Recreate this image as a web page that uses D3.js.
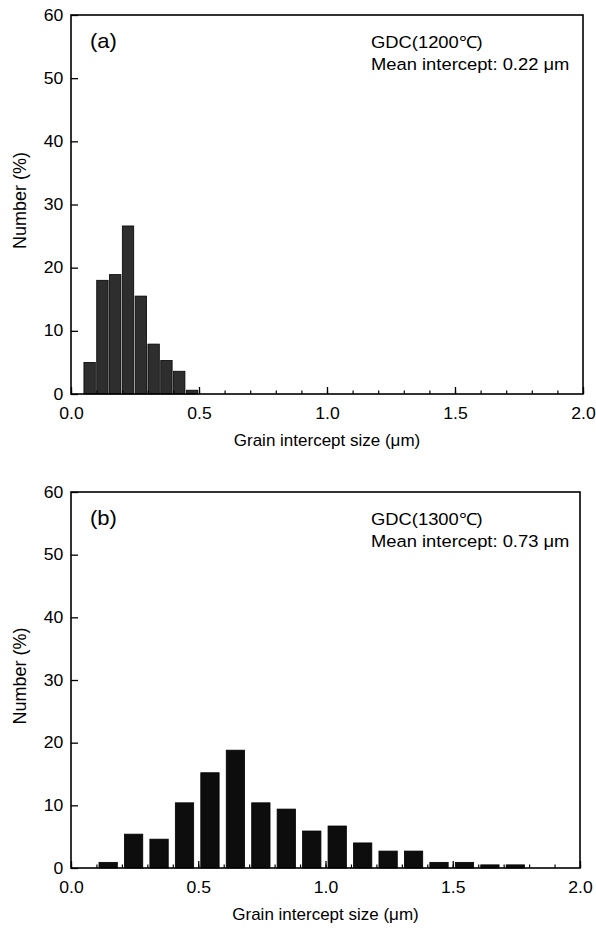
<!DOCTYPE html>
<html>
<head>
<meta charset="utf-8">
<script src="https://cdn.jsdelivr.net/npm/d3@7"></script>
<style>
  html, body { margin: 0; padding: 0; background: #fff; }
  svg { display: block; font-family: "Liberation Sans", Arial, sans-serif; }
</style>
</head>
<body>
<svg id="chart" width="596" height="932"></svg>
<script>
// ---- data ----
const binStartA = [0.05, 0.10, 0.15, 0.20, 0.25, 0.30, 0.35, 0.40, 0.45];
const valuesA   = [5.0, 18.0, 18.9, 26.6, 15.5, 7.9, 5.3, 3.6, 0.6];
const binStartB = [0.1, 0.2, 0.3, 0.4, 0.5, 0.6, 0.7, 0.8, 0.9, 1.0, 1.1, 1.2, 1.3, 1.4, 1.5, 1.6, 1.7];
const valuesB   = [0.9, 5.4, 4.6, 10.4, 15.2, 18.8, 10.4, 9.4, 5.9, 6.7, 4.0, 2.7, 2.7, 0.9, 0.9, 0.5, 0.5];
const xTicks = [0.0, 0.5, 1.0, 1.5, 2.0];
const yTicks = [0, 10, 20, 30, 40, 50, 60];
const panelLabels = ["(a)", "(b)"];
const annotLine1 = ["GDC(1200\u2103)", "GDC(1300\u2103)"];
const annotLine2 = ["Mean intercept: 0.22 \u03bcm", "Mean intercept: 0.73 \u03bcm"];
const xTitle = "Grain intercept size (\u03bcm)";
const yTitle = "Number (%)";

const svg = d3.select("#chart");
const SX = 1.1; // horizontal text stretch

const panels = [
  { left: 71, right: 583, top: 15, bottom: 394, starts: binStartA, values: valuesA,
    binW: 0.05, barOff: 0.0005, barW: 0.0445, fill: "#2e2e2e" },
  { left: 71, right: 580, top: 492, bottom: 868, starts: binStartB, values: valuesB,
    binW: 0.1, barOff: 0.01, barW: 0.072, fill: "#0d0d0d" }
];

panels.forEach((p, i) => {
  const x = d3.scaleLinear().domain([0, 2]).range([p.left, p.right]);
  const y = d3.scaleLinear().domain([0, 60]).range([p.bottom, p.top]);
  const g = svg.append("g");

  // bars
  g.selectAll("rect.bar").data(p.starts.map((s, k) => ({ s, v: p.values[k] })))
    .enter().append("rect").attr("class", "bar")
    .attr("x", d => x(d.s + p.barOff))
    .attr("width", d => x(d.s + p.barOff + p.barW) - x(d.s + p.barOff))
    .attr("y", d => y(d.v))
    .attr("height", d => y(0) - y(d.v))
    .attr("fill", p.fill)
    .attr("stroke", "#000").attr("stroke-width", 0.8);

  // minor x ticks
  const minor = d3.range(0, 2.0001, 0.1).map(v => +v.toFixed(1));
  g.append("g").attr("transform", `translate(0,${p.bottom})`)
    .call(d3.axisBottom(x).tickValues(minor).tickSizeInner(-3.5).tickSizeOuter(0).tickFormat(""))
    .call(a => a.select(".domain").remove())
    .selectAll("line").attr("stroke-width", 1.2);

  // major x axis
  const xa = g.append("g").attr("transform", `translate(0,${p.bottom})`)
    .call(d3.axisBottom(x).tickValues(xTicks).tickSizeInner(-7).tickSizeOuter(0)
      .tickPadding(14).tickFormat(d3.format(".1f")));
  xa.select(".domain").remove();
  xa.selectAll("line").attr("stroke-width", 1.3);
  xa.selectAll("text").attr("font-size", 16).attr("fill", "#000")
    .attr("font-family", "Liberation Sans, Arial, sans-serif")
    .attr("transform", `scale(${SX},1)`);

  // y axis
  const ya = g.append("g").attr("transform", `translate(${p.left},0)`)
    .call(d3.axisLeft(y).tickValues(yTicks).tickSizeInner(-7).tickSizeOuter(0).tickPadding(7));
  ya.select(".domain").remove();
  ya.selectAll("line").attr("stroke-width", 1.3);
  ya.selectAll("text").attr("font-size", 16).attr("fill", "#000")
    .attr("font-family", "Liberation Sans, Arial, sans-serif")
    .attr("transform", `scale(${SX},1)`);

  // frame
  g.append("rect").attr("x", p.left).attr("y", p.top)
    .attr("width", p.right - p.left).attr("height", p.bottom - p.top)
    .attr("fill", "none").attr("stroke", "#000").attr("stroke-width", 1.6);

  // panel label
  g.append("text").attr("transform", `translate(${p.left + 19},${p.top + 33}) scale(${SX},1)`)
    .attr("font-size", 20).text(panelLabels[i]);

  // annotation
  g.append("text").attr("transform", `translate(371,${p.top + 33}) scale(${SX},1)`)
    .attr("font-size", 16.7).text(annotLine1[i]);
  g.append("text").attr("transform", `translate(371,${p.top + 55}) scale(${SX},1)`)
    .attr("font-size", 16.7).text(annotLine2[i]);

  // axis titles
  g.append("text")
    .attr("transform", `translate(${(p.left + p.right) / 2},${p.bottom + 52})`)
    .attr("text-anchor", "middle").attr("font-size", 17).text(xTitle);
  g.append("text")
    .attr("transform", `translate(26,${(p.top + p.bottom) / 2 - 4}) rotate(-90)`)
    .attr("text-anchor", "middle").attr("font-size", 18).text(yTitle);
});
</script>
</body>
</html>
